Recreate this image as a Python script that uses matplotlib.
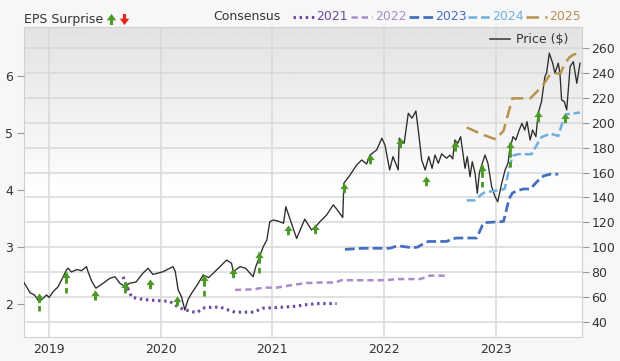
import numpy as np
import matplotlib
matplotlib.use('Agg')
import matplotlib.pyplot as plt
from matplotlib.path import Path
from matplotlib.lines import Line2D

# ---- data (dates as decimal years) ----
price_t = [2018.776, 2018.83, 2018.87, 2018.91, 2018.946, 2018.977, 2019.0, 2019.036, 2019.08, 2019.12,
           2019.156, 2019.17, 2019.2, 2019.25, 2019.29, 2019.335, 2019.35, 2019.38, 2019.41, 2019.42,
           2019.47, 2019.544, 2019.59, 2019.634, 2019.68, 2019.72, 2019.78, 2019.84, 2019.887, 2019.93,
           2020.02, 2020.11, 2020.13, 2020.156, 2020.186, 2020.216, 2020.245, 2020.276, 2020.33, 2020.38,
           2020.43, 2020.5, 2020.55, 2020.59, 2020.634, 2020.65, 2020.71, 2020.76, 2020.828, 2020.85,
           2020.918, 2020.95, 2020.977, 2021.007, 2021.05, 2021.1, 2021.12, 2021.14, 2021.16, 2021.217,
           2021.29, 2021.35, 2021.4, 2021.426, 2021.486, 2021.545, 2021.57, 2021.63, 2021.64, 2021.695,
           2021.755, 2021.8, 2021.844, 2021.874, 2021.934, 2021.98, 2022.008, 2022.05, 2022.08, 2022.127,
           2022.136, 2022.18, 2022.217, 2022.25, 2022.285, 2022.31, 2022.337, 2022.368, 2022.4, 2022.43,
           2022.456, 2022.486, 2022.516, 2022.56, 2022.59, 2022.615, 2022.634, 2022.66, 2022.686, 2022.725,
           2022.745, 2022.77, 2022.79, 2022.815, 2022.835, 2022.853, 2022.875, 2022.904, 2022.93, 2022.964,
           2022.994, 2023.018, 2023.054, 2023.084, 2023.11, 2023.125, 2023.155, 2023.18, 2023.21, 2023.235,
           2023.26, 2023.28, 2023.308, 2023.33, 2023.36, 2023.38, 2023.41, 2023.44, 2023.455, 2023.48,
           2023.51, 2023.53, 2023.56, 2023.575, 2023.59, 2023.614, 2023.636, 2023.666, 2023.695, 2023.726,
           2023.755]
price = [71.4, 63.3, 61.5, 56.1, 58.8, 61.5, 59.5, 64.1, 68, 75,
         81.6, 83, 80, 82, 81, 84.3, 80, 73, 68.2, 67,
         70, 74.9, 76.2, 70.9, 68.2, 70.9, 72, 79, 83, 78,
         80.2, 84.3, 80.5, 65.5, 60.1, 49.4, 58, 62.8, 70, 77.6,
         75.5, 81.6, 86, 89.6, 87, 80.2, 84.3, 83, 76.2, 84,
         100.3, 105.7, 120.5, 121.8, 121, 119.2, 132.5, 127.2, 121.8, 107,
         122.5, 113.8, 117.8, 120.5, 125.9, 134, 131.3, 123.8, 151.4, 158,
         166.1, 170.1, 166.9, 174.1, 178.2, 187.6, 182.2, 162.1, 172.8, 162.1,
         187.6, 183.6, 207.7, 203.7, 209.5, 191.6, 170.1, 162, 172.8, 163.4,
         174.1, 167.5, 175, 171.5, 174, 171, 186.2, 183.6, 188.9, 163.4,
         172.8, 156.7, 168.7, 159.4, 143.3, 159.4, 166.1, 174.1, 167.5, 148.6,
         140.6, 136.5, 151.4, 162.1, 167.5, 178.2, 188.9, 186.2, 194.2, 199.6,
         194.2, 200.9, 186.2, 194.2, 188.9, 207.7, 217, 237.1, 240, 256,
         248, 239.9, 248, 240, 218.4, 217, 210.4, 245.2, 249.2, 231.8,
         248]

c2021_t = [2019.663, 2019.70, 2019.74, 2019.85, 2019.99, 2020.08, 2020.14, 2020.20, 2020.32, 2020.395,
           2020.53, 2020.60, 2020.665, 2020.83, 2020.918, 2021.04, 2021.19, 2021.30, 2021.40, 2021.575]
c2021 = [2.48, 2.30, 2.12, 2.08, 2.06, 2.05, 1.97, 1.91, 1.85, 1.94,
         1.95, 1.90, 1.86, 1.86, 1.93, 1.94, 1.96, 1.99, 2.01, 2.01]
c2022_t = [2020.665, 2020.83, 2020.92, 2021.04, 2021.16, 2021.30, 2021.43, 2021.56, 2021.62, 2022.02,
           2022.11, 2022.32, 2022.37, 2022.41, 2022.56]
c2022 = [2.25, 2.26, 2.29, 2.29, 2.33, 2.37, 2.38, 2.38, 2.42, 2.42,
         2.44, 2.44, 2.47, 2.50, 2.50]
c2023_t = [2021.65, 2021.81, 2022.05, 2022.10, 2022.14, 2022.25, 2022.30, 2022.37, 2022.40, 2022.56,
           2022.62, 2022.65, 2022.83, 2022.88, 2022.90, 2023.07, 2023.12, 2023.15, 2023.19, 2023.25,
           2023.31, 2023.37, 2023.43, 2023.49, 2023.56]
c2023 = [2.96, 2.98, 2.98, 3.01, 3.02, 2.99, 3.00, 3.08, 3.10, 3.10,
         3.15, 3.16, 3.16, 3.38, 3.43, 3.45, 3.85, 3.95, 3.99, 4.02,
         4.02, 4.15, 4.25, 4.28, 4.28]
c2024_t = [2022.74, 2022.81, 2022.87, 2022.90, 2023.0, 2023.08, 2023.13, 2023.15, 2023.20, 2023.32,
           2023.37, 2023.41, 2023.49, 2023.56, 2023.60, 2023.63, 2023.755]
c2024 = [3.82, 3.82, 3.92, 3.96, 3.99, 4.02, 4.45, 4.60, 4.63, 4.63,
         4.80, 4.93, 4.99, 4.95, 5.20, 5.33, 5.36]
c2025_t = [2022.74, 2022.875, 2023.0, 2023.07, 2023.12, 2023.15, 2023.31, 2023.38, 2023.43, 2023.49,
           2023.58, 2023.62, 2023.66, 2023.70, 2023.755]
c2025 = [5.10, 4.98, 4.89, 5.04, 5.40, 5.61, 5.61, 5.75, 5.86, 6.04,
         6.05, 6.22, 6.33, 6.38, 6.40]

# EPS surprises: report date, estimate, actual
surp_t = [2018.91, 2019.156, 2019.41, 2019.68, 2019.90, 2020.15, 2020.386, 2020.643, 2020.876, 2021.14,
          2021.38, 2021.64, 2021.874, 2022.14, 2022.375, 2022.635, 2022.875, 2023.13, 2023.38, 2023.62]
surp_est = [1.88, 2.20, 2.08, 2.19, 2.28, 2.00, 2.15, 2.47, 2.54, 3.23,
            3.26, 3.99, 4.48, 4.76, 4.11, 4.69, 4.06, 4.41, 5.19, 5.20]
surp_act = [2.19, 2.57, 2.25, 2.38, 2.44, 2.15, 2.51, 2.64, 2.91, 3.39,
            3.41, 4.13, 4.63, 4.92, 4.24, 4.87, 4.44, 4.84, 5.39, 5.36]

years = [2019, 2020, 2021, 2022, 2023]
series = [('2021', c2021_t, c2021, '#6b4aa0', (0, (0.8, 1.2)), 2.2),
          ('2022', c2022_t, c2022, '#a98cc9', (0, (2.5, 1.6)), 1.8),
          ('2023', c2023_t, c2023, '#4570c2', (0, (3.5, 1.5)), 2.0),
          ('2024', c2024_t, c2024, '#6db0de', (0, (3.5, 1.5)), 1.8),
          ('2025', c2025_t, c2025, '#b8924a', (0, (5, 2.5)), 1.8)]

green = '#4b9a26'
red = '#e5261d'
txt = '#333333'

up = Path([(0, 0), (-0.6, -0.8), (-0.2, -0.8), (-0.2, -1.4), (0.2, -1.4), (0.2, -0.8), (0.6, -0.8), (0, 0)],
          [Path.MOVETO] + [Path.LINETO] * 6 + [Path.CLOSEPOLY])
up_c = Path([(0, 0.7), (-0.6, -0.1), (-0.2, -0.1), (-0.2, -0.7), (0.2, -0.7), (0.2, -0.1), (0.6, -0.1), (0, 0.7)],
            [Path.MOVETO] + [Path.LINETO] * 6 + [Path.CLOSEPOLY])
down_c = Path([(x, -y) for x, y in up_c.vertices], up_c.codes)

plt.rcParams['font.family'] = 'DejaVu Sans'
fig = plt.figure(figsize=(6.2, 3.61), dpi=100, facecolor='#f7f7f7')
ax = fig.add_axes([24.5/620, 1-337/361, (581.7-24.5)/620, (337-27)/361])
ax.set_facecolor('white')
ax_e = ax.twinx()

# gray gradient in the upper part of the plot
t = np.linspace(0, 1, 256)
g = 1 - 0.11*np.clip((t-0.47)/0.53, 0, 1)**0.9
ax.imshow(g[::-1, None], extent=[0, 1, 0, 1], transform=ax.transAxes, aspect='auto',
          cmap='gray', vmin=0, vmax=1, zorder=0, interpolation='bilinear')

# price (right axis)
ax.plot(price_t, price, color='#2b2b2b', lw=0.95, zorder=3)
ax.set_xlim(2018.78, 2023.77)
ax.set_ylim(27.7, 277.1)
ax.set_yticks(np.arange(40, 261, 20))
ax.set_xticks(years)
ax.yaxis.tick_right()
ax.grid(True, color='#d8d8d8', lw=1.1, zorder=1)
ax.set_axisbelow(True)
ax.tick_params(axis='y', colors='#999999', labelcolor=txt, labelsize=9, length=5, width=0.8, pad=2)
ax.tick_params(axis='x', length=0, labelcolor=txt, labelsize=9, pad=4)
for s in ax.spines.values():
    s.set_color('#d0d0d0')

# EPS (left axis)
ax_e.patch.set_visible(False)
ax_e.yaxis.tick_left()
ax_e.set_ylim(1.424, 6.861)
ax_e.set_yticks([2, 3, 4, 5, 6])
ax_e.tick_params(axis='y', colors='#999999', labelcolor=txt, labelsize=9, length=5, width=0.8, pad=3)
for s in ax_e.spines.values():
    s.set_visible(False)

for name, xs, ys, c, ls, lw in series:
    ax_e.plot(xs, ys, color=c, ls=ls, lw=lw, zorder=2)

ax_e.vlines(surp_t, surp_est, surp_act, colors=green, linestyles=(0, (2, 1.5)), lw=2, zorder=4)
ax_e.plot(surp_t, surp_act, ls='none', marker=up, markersize=14, color=green, mew=0, zorder=5)

# header
fig.text(24.5/620, 1-19.5/361, 'EPS Surprise', fontsize=9, color=txt, va='center', ha='left')
fig.add_artist(Line2D([111/620], [1-19/361], marker=up_c, markersize=8, color=green, mew=0, ls='none'))
fig.add_artist(Line2D([124/620], [1-19/361], marker=down_c, markersize=8, color=red, mew=0, ls='none'))
fig.text(213/620, 1-17/361, 'Consensus', fontsize=9, color=txt, va='center', ha='left')
samples = [(293, 314, 316), (351, 372, 375), (409, 434, 435), (468, 490, 492), (526, 547, 549)]
for (name, xs, ys, c, ls, lw), (x0, x1, xt) in zip(series, samples):
    fig.add_artist(Line2D([x0/620, x1/620], [1-17/361]*2, color=c, ls=ls, lw=lw))
    fig.text(xt/620, 1-17/361, name, fontsize=9, color=c, va='center', ha='left')

# price legend
fig.add_artist(Line2D([490/620, 510/620], [1-39.3/361]*2, color='#444444', lw=1.2))
fig.text(516/620, 1-39.3/361, 'Price ($)', fontsize=9, color=txt, va='center', ha='left')

fig.savefig('out.png', dpi=100, facecolor=fig.get_facecolor())
